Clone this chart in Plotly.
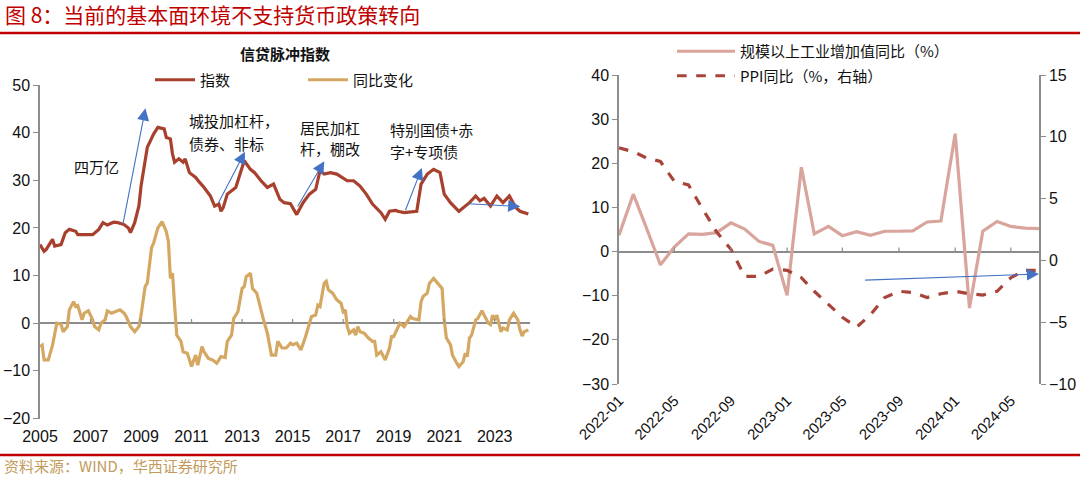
import plotly.graph_objects as go

W, H = 1080, 477
CJK = "Noto Sans CJK SC"
NUM = "Liberation Sans"

# ---------------- Left chart: 信贷脉冲指数 (monthly readings) ----------------
idx_dates = ["2005-01", "2005-03", "2005-04", "2005-07", "2005-08", "2005-11", "2006-01", "2006-03",
             "2006-06", "2006-07", "2006-11", "2007-02", "2007-05", "2007-07", "2007-09", "2007-12",
             "2008-02", "2008-05", "2008-07", "2008-08", "2008-10", "2008-12", "2009-01", "2009-03",
             "2009-04", "2009-07", "2009-09", "2009-12", "2010-01", "2010-03", "2010-04", "2010-05",
             "2010-07", "2010-09", "2010-10", "2010-12", "2011-03", "2011-05", "2011-07", "2011-10",
             "2011-12", "2012-02", "2012-03", "2012-04", "2012-06", "2012-10", "2012-12", "2013-02",
             "2013-05", "2013-07", "2013-10", "2014-01", "2014-04", "2014-07", "2014-09", "2014-12",
             "2015-03", "2015-06", "2015-09", "2015-12", "2016-02", "2016-04", "2016-07", "2016-10",
             "2017-03", "2017-06", "2017-09", "2017-12", "2018-03", "2018-07", "2018-09", "2018-11",
             "2019-02", "2019-03", "2019-06", "2019-09", "2019-12", "2020-02", "2020-05", "2020-08",
             "2020-11", "2021-01", "2021-04", "2021-08", "2021-10", "2022-01", "2022-04", "2022-06",
             "2022-08", "2022-11", "2023-02", "2023-05", "2023-08", "2023-11", "2024-01", "2024-05"]
idx_vals = [16.5, 15.1, 15.5, 17.6, 16.2, 16.5, 19.0, 19.7,
            19.3, 18.6, 18.6, 18.6, 19.7, 21.1, 20.6, 21.2,
            21.1, 20.7, 20.0, 19.0, 21.1, 24.6, 28.8, 34.5,
            36.9, 39.7, 41.1, 40.8, 39.0, 38.7, 35.5, 33.8,
            34.5, 33.8, 34.5, 31.6, 30.6, 29.5, 28.5, 26.7,
            24.6, 25.0, 23.5, 24.2, 27.1, 28.5, 31.3, 34.1,
            32.3, 31.6, 29.9, 28.5, 29.2, 26.0, 25.3, 25.1,
            22.8, 25.3, 27.1, 28.1, 32.0, 31.3, 31.6, 31.3,
            29.9, 29.9, 28.8, 27.1, 25.0, 23.2, 21.8, 23.5,
            23.7, 23.5, 23.2, 23.4, 23.5, 29.2, 31.3, 32.3,
            31.6, 27.1, 25.3, 23.5, 24.2, 25.3, 26.7, 25.7,
            26.2, 24.6, 26.7, 25.3, 26.7, 24.3, 23.5, 22.9]

yoy_dates = ["2005-01", "2005-02", "2005-03", "2005-05", "2005-07", "2005-08", "2005-09", "2005-11",
             "2005-12", "2006-02", "2006-03", "2006-05", "2006-06", "2006-07", "2006-09", "2006-10",
             "2006-12", "2007-02", "2007-03", "2007-05", "2007-06", "2007-08", "2007-09", "2007-11",
             "2008-01", "2008-03", "2008-05", "2008-06", "2008-08", "2008-10", "2008-12", "2009-01",
             "2009-03", "2009-04", "2009-06", "2009-07", "2009-09", "2009-11", "2010-01", "2010-02",
             "2010-03", "2010-04", "2010-05", "2010-06", "2010-08", "2010-09", "2010-11", "2010-12",
             "2011-01", "2011-03", "2011-04", "2011-06", "2011-07", "2011-09", "2011-11", "2012-01",
             "2012-03", "2012-05", "2012-06", "2012-08", "2012-09", "2012-11", "2013-01", "2013-02",
             "2013-03", "2013-05", "2013-06", "2013-08", "2013-10", "2013-11", "2014-01", "2014-03",
             "2014-05", "2014-06", "2014-08", "2014-10", "2014-12", "2015-01", "2015-03", "2015-05",
             "2015-07", "2015-09", "2015-10", "2015-12", "2016-01", "2016-02", "2016-04", "2016-05",
             "2016-06", "2016-08", "2016-10", "2016-12", "2017-01", "2017-02", "2017-03", "2017-04",
             "2017-06", "2017-07", "2017-08", "2017-09", "2017-11", "2018-01", "2018-03", "2018-04",
             "2018-05", "2018-07", "2018-08", "2018-09", "2018-11", "2018-12", "2019-01", "2019-03",
             "2019-04", "2019-06", "2019-07", "2019-09", "2019-10", "2020-01", "2020-02", "2020-03",
             "2020-05", "2020-06", "2020-08", "2020-09", "2020-11", "2020-12", "2021-01", "2021-02",
             "2021-04", "2021-05", "2021-07", "2021-08", "2021-10", "2021-11", "2021-12", "2022-01",
             "2022-02", "2022-04", "2022-05", "2022-07", "2022-08", "2022-10", "2022-11", "2022-12",
             "2023-01", "2023-02", "2023-04", "2023-05", "2023-07", "2023-08", "2023-10", "2023-12",
             "2024-01", "2024-02", "2024-03", "2024-05"]
yoy_vals = [-4.9, -4.6, -7.7, -7.7, -4.6, -2.5, 0.0, -0.2,
            -1.8, -0.7, 2.8, 4.5, 3.5, 3.7, 0.7, 2.1,
            2.6, 0.7, -0.7, -1.4, 0.0, 0.7, 2.6, 2.1,
            2.4, 2.8, 2.1, 1.4, -0.7, -1.8, -0.7, 1.7,
            7.7, 8.4, 15.8, 16.8, 20.0, 21.3, 19.2, 17.1,
            9.4, 10.5, 3.8, -2.5, -3.8, -6.0, -6.3, -7.7,
            -9.1, -6.7, -8.8, -4.9, -6.0, -7.4, -7.7, -8.4,
            -7.0, -7.2, -3.8, -2.5, 1.0, 2.4, 7.3, 7.7,
            9.8, 10.5, 7.3, 6.3, 2.4, 1.0, -2.1, -6.7,
            -6.7, -3.8, -5.2, -5.2, -4.2, -4.5, -4.2, -5.6,
            -3.1, -0.3, 1.4, 1.7, 3.8, 3.5, 8.4, 8.8,
            7.0, 6.3, 4.9, 4.2, 2.4, 2.8, -0.7, -2.1,
            -1.4, -2.5, -0.7, -1.8, -2.1, -3.1, -3.8, -3.8,
            -6.7, -6.0, -7.0, -7.7, -5.2, -2.8, -2.8, -0.7,
            0.0, -0.7, 0.0, 1.4, 1.0, 0.7, 4.5, 5.6,
            6.3, 8.4, 9.4, 8.8, 7.7, 7.3, 0.7, -3.1,
            -4.5, -6.7, -8.4, -9.1, -8.1, -6.3, -7.0, -3.1,
            -2.5, 0.7, 1.0, 2.6, 1.7, 0.0, -0.3, 1.7,
            0.7, 1.7, -1.8, -1.0, -1.4, 0.7, 2.1, 0.7,
            -1.4, -2.7, -1.8, -1.4]

left_year_ticks = [2005, 2007, 2009, 2011, 2013, 2015, 2017, 2019, 2021, 2023]

# ---------------- Right chart ----------------
r_months = ["2022-01", "2022-02", "2022-03", "2022-04", "2022-05", "2022-06", "2022-07", "2022-08",
            "2022-09", "2022-10", "2022-11", "2022-12", "2023-01", "2023-02", "2023-03", "2023-04",
            "2023-05", "2023-06", "2023-07", "2023-08", "2023-09", "2023-10", "2023-11", "2023-12",
            "2024-01", "2024-02", "2024-03", "2024-04", "2024-05", "2024-06", "2024-07"]
ip_vals = [3.7, 13.0, 5.5, -3.0, 1.0, 4.0, 3.9, 4.3, 6.5, 5.1, 2.3, 1.4,
           -9.9, 19.1, 4.0, 5.7, 3.6, 4.5, 3.7, 4.6, 4.6, 4.7, 6.7, 6.9,
           26.7, -12.8, 4.6, 6.8, 5.7, 5.3, 5.2]
ppi_vals = [9.1, 8.8, 8.3, 8.0, 6.4, 6.1, 4.2, 2.3, 0.9, -1.3, -1.3, -0.7,
            -0.8, -1.4, -2.5, -3.6, -4.6, -5.4, -4.4, -3.0, -2.5, -2.6, -3.0, -2.7,
            -2.5, -2.7, -2.8, -2.5, -1.4, -0.8, -0.8]
right_ticks = ["2022-01", "2022-05", "2022-09", "2023-01", "2023-05", "2023-09", "2024-01", "2024-05"]

# annotation arrows (tail date, tail value, head date, head value)
left_arrows = [("2008-04-10", 20.5, "2009-03-05", 45.1),
               ("2012-01-12", 24.9, "2013-02-12", 36.0),
               ("2015-03-01", 24.2, "2016-04-03", 34.0),
               ("2019-06-12", 23.4, "2020-02-12", 32.6),
               ("2021-11-25", 25.1, "2024-01-05", 24.5)]
left_notes = [("四万亿", "2007-03-28", 32.9, "center"),
              ("城投加杠杆，", "2010-10-22", 42.6, "left"),
              ("债券、非标", "2010-10-22", 37.8, "left"),
              ("居民加杠", "2015-03-22", 41.1, "left"),
              ("杆，棚改", "2015-03-22", 36.7, "left"),
              ("特别国债+赤", "2018-10-16", 40.6, "left"),
              ("字+专项债", "2018-10-16", 36.0, "left")]
right_arrow = ("2023-06-16", -1.6, "2024-07-01", -1.1)

n = min(len(yoy_dates), len(yoy_vals))
yoy_dates, yoy_vals = yoy_dates[:n], yoy_vals[:n]

C_IDX = "#A8402E"
C_YOY = "#D4A862"
C_IP = "#D9A49B"
C_PPI = "#A8443A"
C_ARR = "#4472C4"
C_AX = "#8C8C8C"
C_RED = "#C00000"


def px(x):
    return x / W


def py(y):
    return 1 - y / H


fig = go.Figure()
fig.add_trace(go.Scatter(x=[d + "-01" for d in idx_dates], y=idx_vals, mode="lines", name="指数",
                         line=dict(color=C_IDX, width=3.2), xaxis="x", yaxis="y", legend="legend"))
fig.add_trace(go.Scatter(x=[d + "-01" for d in yoy_dates], y=yoy_vals, mode="lines", name="同比变化",
                         line=dict(color=C_YOY, width=3.2), xaxis="x", yaxis="y", legend="legend"))
fig.add_trace(go.Scatter(x=[m + "-01" for m in r_months], y=ip_vals, mode="lines",
                         name="规模以上工业增加值同比（%）", legendgroup="a",
                         line=dict(color=C_IP, width=3.2), xaxis="x2", yaxis="y2", legend="legend2"))
fig.add_trace(go.Scatter(x=[m + "-01" for m in r_months], y=ppi_vals, mode="lines",
                         name="PPI同比（%，右轴）", legendgroup="b",
                         line=dict(color=C_PPI, width=3.2, dash="dash"), xaxis="x2", yaxis="y3",
                         legend="legend2"))

tickfont = dict(family=NUM, size=16, color="#111")
yax_common = dict(showgrid=False, showline=True, linecolor=C_AX, linewidth=1.5, ticks="outside",
                  ticklen=5, tickcolor=C_AX, tickwidth=1.2, tickfont=tickfont, fixedrange=True,
                  automargin=False)

fig.update_layout(
    width=W, height=H, margin=dict(l=0, r=0, t=0, b=0, autoexpand=False),
    paper_bgcolor="white", plot_bgcolor="white",
    xaxis=dict(domain=[px(40), px(530)], type="date", range=["2005-01-01", "2024-05-25"],
               tickvals=[f"{y}-01-01" for y in left_year_ticks], ticktext=[str(y) for y in left_year_ticks],
               showgrid=False, showline=False, zeroline=False, ticks="", tickfont=tickfont,
               anchor="y", ticklabelstandoff=6, automargin=False),
    yaxis=dict(domain=[py(418.5), py(85)], range=[-20, 50], tickvals=list(range(-20, 51, 10)),
               zeroline=True, zerolinecolor=C_AX, zerolinewidth=1.5, anchor="x", **yax_common),
    xaxis2=dict(domain=[px(619), px(1039)], type="date", range=["2022-01-01", "2024-07-01"],
                tickvals=[m + "-01" for m in right_ticks], ticktext=right_ticks, tickangle=-45,
                showgrid=False, showline=False, zeroline=False, ticks="",
                tickfont=dict(family=NUM, size=15, color="#111"),
                anchor="y2", ticklabelstandoff=4, automargin=False),
    yaxis2=dict(domain=[py(384), py(75)], range=[-30, 40], tickvals=list(range(-30, 41, 10)),
                zeroline=True, zerolinecolor=C_AX, zerolinewidth=1.5, anchor="x2", **yax_common),
    yaxis3=dict(range=[-10, 15], tickvals=list(range(-10, 16, 5)), overlaying="y2", side="right",
                anchor="x2", zeroline=False, **yax_common),
    legend=dict(x=px(150), y=py(80), xanchor="left", yanchor="middle", orientation="h",
                font=dict(family=CJK, size=15, color="#111"), bgcolor="rgba(0,0,0,0)",
                entrywidth=98, entrywidthmode="pixels", itemwidth=40, borderwidth=0),
    legend2=dict(x=px(672), y=py(35), xanchor="left", yanchor="top", orientation="v",
                 font=dict(family=CJK, size=15, color="#111"), bgcolor="rgba(0,0,0,0)",
                 tracegroupgap=2, itemwidth=58, borderwidth=0),
    showlegend=True,
)

shapes = []
shapes.append(dict(type="line", xref="paper", yref="paper", x0=0, x1=1, y0=py(33), y1=py(33),
                   line=dict(color=C_RED, width=2.5)))
shapes.append(dict(type="line", xref="paper", yref="paper", x0=0, x1=1, y0=py(455), y1=py(455),
                   line=dict(color=C_RED, width=2.5)))
for yv in left_year_ticks[1:]:
    shapes.append(dict(type="line", xref="x", yref="y", x0=f"{yv}-01-01", x1=f"{yv}-01-01", y0=0, y1=0.9,
                       line=dict(color=C_AX, width=1.2)))
for m in right_ticks[1:]:
    shapes.append(dict(type="line", xref="x2", yref="y2", x0=m + "-01", x1=m + "-01", y0=0, y1=0.9,
                       line=dict(color=C_AX, width=1.2)))
fig.update_layout(shapes=shapes)

ann = []
ann.append(dict(text="图 8：当前的基本面环境不支持货币政策转向", xref="paper", yref="paper",
                x=px(3), y=py(14), xanchor="left", yanchor="middle", showarrow=False,
                font=dict(family=CJK, size=21, color=C_RED)))
ann.append(dict(text="资料来源：WIND，华西证券研究所", xref="paper", yref="paper",
                x=px(3), y=py(465), xanchor="left", yanchor="middle", showarrow=False, borderpad=0,
                font=dict(family=CJK, size=15, color="#C29B5C")))
ann.append(dict(text="<b>信贷脉冲指数</b>", xref="paper", yref="paper", x=px(285), y=py(53),
                xanchor="center", yanchor="middle", showarrow=False,
                font=dict(family=CJK, size=15, color="#111")))
for t, xd, yv, al in left_notes:
    ann.append(dict(text=t, xref="x", yref="y", x=xd, y=yv, xanchor=al, yanchor="middle",
                    showarrow=False, font=dict(family=CJK, size=15, color="#111")))
for tx, tyv, hx, hy in left_arrows:
    ann.append(dict(text="", xref="x", yref="y", x=hx, y=hy, axref="x", ayref="y", ax=tx, ay=tyv,
                    showarrow=True, arrowhead=2, arrowsize=2.2, arrowwidth=1.1, arrowcolor=C_ARR,
                    standoff=0))
tx, tyv, hx, hy = right_arrow
ann.append(dict(text="", xref="x2", yref="y3", x=hx, y=hy, axref="x2", ayref="y3", ax=tx, ay=tyv,
                showarrow=True, arrowhead=2, arrowsize=2.2, arrowwidth=1.1, arrowcolor=C_ARR, standoff=0))
fig.update_layout(annotations=ann)

fig.write_html("out.html", config={"displayModeBar": False},
               post_script="document.body.style.margin='0';document.body.style.overflow='hidden';")
